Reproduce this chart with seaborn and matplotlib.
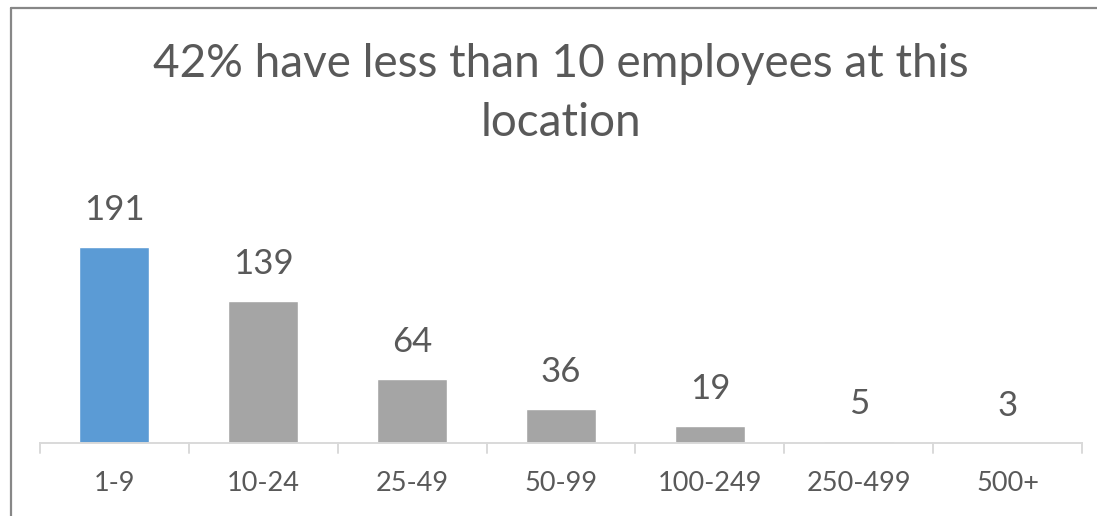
import matplotlib
matplotlib.use("Agg")
import matplotlib.pyplot as plt
from matplotlib.lines import Line2D
import seaborn as sns
import pandas as pd

# Company size bands and respondent counts
size_bands = ["1-9", "10-24", "25-49", "50-99", "100-249", "250-499", "500+"]
counts = [191, 139, 64, 36, 19, 5, 3]
title_line1 = "42% have less than 10 employees at this"
title_line2 = "location"

BLUE = "#5B9BD5"
GREY = "#A5A5A5"
TEXT = "#595959"

sns.set_theme(style="white")
plt.rcParams["font.family"] = ["Lato", "DejaVu Sans"]

W, H = 1097, 516
fig = plt.figure(figsize=(W / 100, H / 100), dpi=100)
fig.patch.set_facecolor("white")

# axes placed in pixel terms: baseline at y=443, x from 40 to 1082
ax_left, ax_right, ax_bottom, ax_top = 40, 1082, 443, 150
ax = fig.add_axes([ax_left / W, (H - ax_bottom) / H,
                   (ax_right - ax_left) / W, (ax_bottom - ax_top) / H])

df = pd.DataFrame({"band": size_bands, "count": counts})
palette = [BLUE] + [GREY] * (len(size_bands) - 1)
sns.barplot(data=df, x="band", y="count", hue="band", palette=palette,
            width=0.47, legend=False, ax=ax, saturation=1)

y_min = 3
px_per_unit = (443 - 247) / (191 - y_min)
ax.set_ylim(y_min, y_min + (ax_bottom - ax_top) / px_per_unit)
ax.set_xlim(-0.5, len(size_bands) - 0.5)

# value labels above each bar
for i, v in enumerate(counts):
    ax.annotate(str(v), xy=(i, max(v, y_min)), xytext=(0, 19.5),
                textcoords="offset points", ha="center", va="baseline",
                fontsize=25, color=TEXT)

# category axis: light baseline with separator ticks between bands
for s in ["left", "right", "top"]:
    ax.spines[s].set_visible(False)
ax.spines["bottom"].set_color("#D9D9D9")
ax.spines["bottom"].set_linewidth(1.4)
ax.set_yticks([])
ax.set_xlabel("")
ax.set_ylabel("")
ax.set_xticks(range(len(size_bands)))
ax.set_xticklabels(size_bands, fontsize=19.5, color=TEXT)
ax.tick_params(axis="x", length=0, pad=20)
for b in [i - 0.5 for i in range(len(size_bands) + 1)]:
    ax.plot([b, b], [0, -10 / (ax_bottom - ax_top)], transform=ax.get_xaxis_transform(),
            color="#D9D9D9", lw=1.4, clip_on=False)

# two-line chart title centred over the plot area
cx = (ax_left + ax_right) / 2 / W
fig.text(cx, (H - 77) / H, title_line1, ha="center", va="baseline",
         fontsize=33, color=TEXT)
fig.text(cx, (H - 136) / H, title_line2, ha="center", va="baseline",
         fontsize=33, color=TEXT)

# chart frame along the left and top edges
frame = dict(color="#878787", lw=1.6, transform=fig.transFigure)
fig.add_artist(Line2D([10.5 / W, 10.5 / W], [0, (H - 7.5) / H], **frame))
fig.add_artist(Line2D([10.5 / W, 1.0], [(H - 7.5) / H, (H - 7.5) / H], **frame))

fig.savefig("out.png", dpi=100, facecolor="white")
